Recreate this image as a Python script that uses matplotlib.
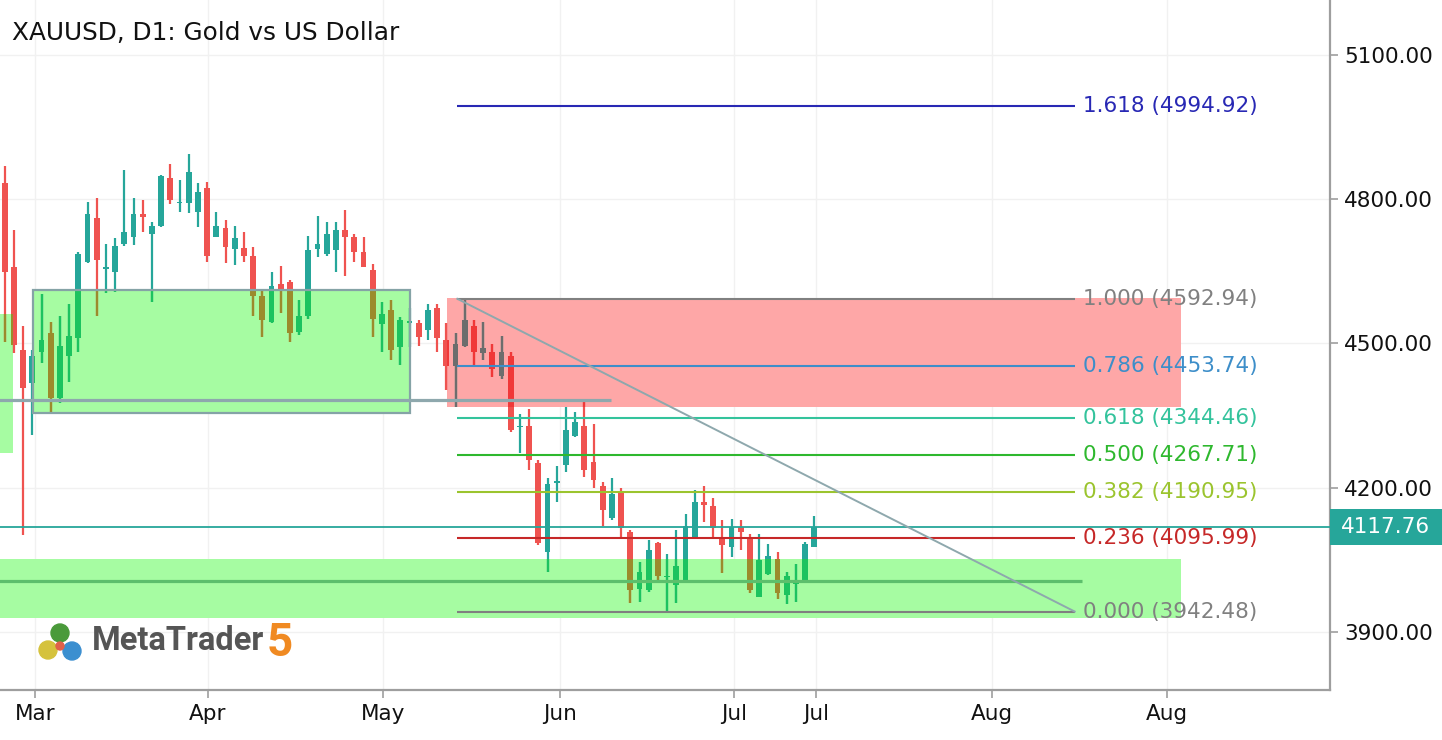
import matplotlib.pyplot as plt
from matplotlib.patches import Rectangle, Circle
import numpy as np

# daily OHLC (oldest first)
opens = [4834, 4659, 4486, 4418, 4482, 4522, 4387, 4474, 4511, 4669,
         4761, 4655, 4649, 4707, 4721, 4769, 4728, 4744, 4844, 4792,
         4792, 4773, 4823, 4721, 4740, 4696, 4699, 4682, 4599, 4545,
         4624, 4628, 4524, 4557, 4696, 4686, 4694, 4736, 4721, 4690,
         4653, 4540, 4570, 4493, 4543, 4543, 4528, 4574, 4507, 4453,
         4495, 4536, 4480, 4482, 4432, 4474, 4326, 4328, 4251, 4066,
         4210, 4247, 4308, 4328, 4253, 4204, 4137, 4189, 4108, 3989,
         3987, 4085, 4014, 3998, 4008, 4095, 4170, 4162, 4093, 4077,
         4118, 4095, 3973, 4020, 4052, 3977, 3999, 4008, 4077]
highs = [4869, 4736, 4536, 4486, 4603, 4545, 4557, 4582, 4690, 4794,
         4803, 4707, 4719, 4861, 4803, 4798, 4753, 4850, 4873, 4840,
         4894, 4834, 4836, 4773, 4757, 4744, 4732, 4701, 4609, 4649,
         4661, 4632, 4590, 4724, 4765, 4753, 4753, 4778, 4728, 4721,
         4665, 4586, 4590, 4555, 4574, 4549, 4582, 4582, 4543, 4522,
         4592.94, 4549, 4545, 4499, 4516, 4482, 4353, 4364, 4258, 4220,
         4245, 4368, 4357, 4378, 4332, 4212, 4220, 4199, 4112, 4045,
         4091, 4087, 4062, 4112, 4145, 4195, 4204, 4179, 4133, 4135,
         4133, 4104, 4104, 4083, 4066, 4025, 4041, 4087, 4141]
lows = [4503, 4480, 4102, 4310, 4459, 4355, 4376, 4420, 4482, 4667,
        4557, 4605, 4607, 4703, 4705, 4732, 4586, 4742, 4790, 4773,
        4771, 4742, 4669, 4721, 4667, 4663, 4669, 4557, 4513, 4543,
        4563, 4503, 4518, 4551, 4680, 4682, 4649, 4640, 4669, 4659,
        4513, 4482, 4466, 4455, 4493, 4495, 4507, 4482, 4403, 4368,
        4493, 4453, 4466, 4430, 4426, 4316, 4272, 4237, 4080, 4025,
        4170, 4233, 4306, 4222, 4199, 4120, 4133, 4095, 3960, 3962,
        3983, 4008, 3942.48, 3960, 4008, 4095, 4129, 4095, 4023, 4056,
        4070, 3981, 3973, 4018, 3968, 3958, 3962, 4008, 4077]
closes = [4649, 4497, 4407, 4474, 4507, 4387, 4495, 4516, 4686, 4769,
          4674, 4659, 4703, 4732, 4769, 4763, 4744, 4848, 4798, 4794,
          4857, 4815, 4682, 4744, 4701, 4719, 4682, 4599, 4549, 4620,
          4613, 4522, 4557, 4694, 4707, 4728, 4736, 4721, 4690, 4659,
          4551, 4561, 4486, 4549, 4545, 4513, 4570, 4511, 4453, 4499,
          4549, 4482, 4491, 4447, 4482, 4320, 4328, 4258, 4085, 4208,
          4212, 4320, 4337, 4237, 4216, 4154, 4187, 4116, 3987, 4025,
          4070, 4016, 4016, 4037, 4120, 4170, 4164, 4116, 4081, 4118,
          4108, 3987, 4050, 4058, 3981, 4016, 4001, 4083, 4117.76]
last_price = 4117.76

# Fibonacci retracement drawn from the swing high to the swing low
fib_ratios = [1.618, 1.000, 0.786, 0.618, 0.500, 0.382, 0.236, 0.000]
fib_levels = [4994.92, 4592.94, 4453.74, 4344.46, 4267.71, 4190.95, 4095.99, 3942.48]
fib_colors = ['#2828b4', '#808080', '#3d8ec9', '#33c39c',
              '#2eb82e', '#9bc42e', '#c62828', '#808080']
fib_x0, fib_x1 = 49.2, 116.3

# supply / demand boxes: (x0, x1, y0, y1)
green_boxes = [(-1, 0.9, 4272, 4561), (3.08, 44.05, 4355, 4611), (-1, 127.9, 3929, 4052)]
red_box = (48.1, 127.9, 4368, 4595)
grey_level = (-1, 65.9, 4382)
green_level = (-1, 117.1, 4006)

month_pos = [3.3, 22.1, 41.1, 60.4, 79.3, 88.2, 107.3, 126.3]
month_labels = ['Mar', 'Apr', 'May', 'Jun', 'Jul', 'Jul', 'Aug', 'Aug']
price_ticks = [3900, 4200, 4500, 4800, 5100]

fig = plt.figure(figsize=(14.42, 7.40), dpi=100)
ax = fig.add_axes([0, 50 / 740, 1330 / 1442, 690 / 740])


def draw_candles(up_col, dn_col, clip=None, z=3):
    x = np.arange(len(opens))
    o = np.array(opens)
    c = np.array(closes)
    cols = np.where(c >= o, up_col, dn_col)
    wicks = ax.vlines(x, lows, highs, colors=cols, lw=1.6, zorder=z)
    heights = np.maximum(np.abs(c - o), 3)
    bars = ax.bar(x, heights, bottom=np.minimum(o, c), width=0.64,
                  color=cols, lw=0, zorder=z)
    if clip is not None:
        wicks.set_clip_path(clip)
        for b in bars:
            b.set_clip_path(clip)


# zones
zone_patches = []
for x0, x1, y0, y1 in green_boxes:
    r = Rectangle((x0, y0), x1 - x0, y1 - y0, fc='#a6fca2', ec='none', zorder=1)
    ax.add_patch(r)
    zone_patches.append(r)
bx = green_boxes[1]
ax.add_patch(Rectangle((bx[0], bx[2]), bx[1] - bx[0], bx[3] - bx[2],
                       fc='none', ec='#85a3a6', lw=1.6, zorder=5))
red_patch = Rectangle((red_box[0], red_box[2]), red_box[1] - red_box[0],
                      red_box[3] - red_box[2], fc='#fea7a7', ec='none', zorder=1)
ax.add_patch(red_patch)

# candles, then the parts inside the boxes in their blended colours
draw_candles('#26a69a', '#ef5350')
for r in zone_patches:
    draw_candles('#1cc35f', '#9b8b2c', clip=r, z=4)
draw_candles('#6d6d6d', '#f03838', clip=red_patch, z=4)

# horizontal levels
ax.hlines(grey_level[2], grey_level[0], grey_level[1], color='#8ea8ad', lw=2.3, zorder=6)
ax.hlines(green_level[2], green_level[0], green_level[1], color='#5cbf6c', lw=2.3, zorder=6)
ax.axhline(last_price, color='#26a69a', lw=1.3, zorder=6)

# fibonacci
for ratio, level, col in zip(fib_ratios, fib_levels, fib_colors):
    ax.hlines(level, fib_x0, fib_x1, color=col, lw=1.5, zorder=7)
    ax.text(fib_x1 + 0.9, level, f'{ratio:.3f} ({level:.2f})', color=col,
            fontsize=15.5, va='center', ha='left', zorder=8)
ax.plot([fib_x0, fib_x1], [fib_levels[1], fib_levels[-1]], color='#8ea8ad', lw=1.4, zorder=7)

ax.set_xlim(-0.511, 144.05)
ax.set_ylim(3779.3, 5214.4)

ax.yaxis.tick_right()
ax.set_yticks(price_ticks)
ax.set_yticklabels([f'{p:.2f}' for p in price_ticks])
ax.set_xticks(month_pos)
ax.set_xticklabels(month_labels)
ax.tick_params(axis='both', length=6, width=1.2, color='#9e9e9e',
               labelsize=15.5, labelcolor='#111111', pad=4)
for s in ['top', 'left']:
    ax.spines[s].set_visible(False)
for s in ['right', 'bottom']:
    ax.spines[s].set_color('#9e9e9e')
    ax.spines[s].set_linewidth(1.6)
ax.grid(True, color='#f1f1f1', lw=1)
ax.set_axisbelow(True)

# last price tag on the price scale
yt = ax.get_yaxis_transform()
ax.add_patch(Rectangle((1.0, last_price - 37), 112 / 1330, 74, transform=yt,
                       fc='#26a69a', ec='none', clip_on=False, zorder=10))
ax.text(1.0 + 56 / 1330, last_price, f'{last_price:.2f}', transform=yt,
        ha='center', va='center', color='white', fontsize=15.5, clip_on=False, zorder=11)

fig.text(12 / 1442, 1 - 33 / 740, 'XAUUSD, D1: Gold vs US Dollar',
         fontsize=17.8, va='center', ha='left', color='#111111')

# MetaTrader 5 watermark
deco = fig.add_axes([0, 0, 1, 1])
deco.set_xlim(0, 1442)
deco.set_ylim(740, 0)
deco.axis('off')
deco.add_patch(Circle((48, 650), 9, color='#d5c23c'))
deco.add_patch(Circle((72, 651), 9, color='#3b8fd0'))
deco.add_patch(Circle((60, 633), 9, color='#4a9a3a'))
deco.add_patch(Circle((60, 646), 4, color='#e0604a'))
deco.text(92, 641, 'MetaTrader', family='Roboto', weight='bold', fontsize=23.5,
          color='#555555', va='center', ha='left')
deco.text(267, 643, '5', family='Roboto', weight='bold', fontsize=33,
          color='#f08a22', va='center', ha='left')

fig.savefig('out.png', dpi=100)
